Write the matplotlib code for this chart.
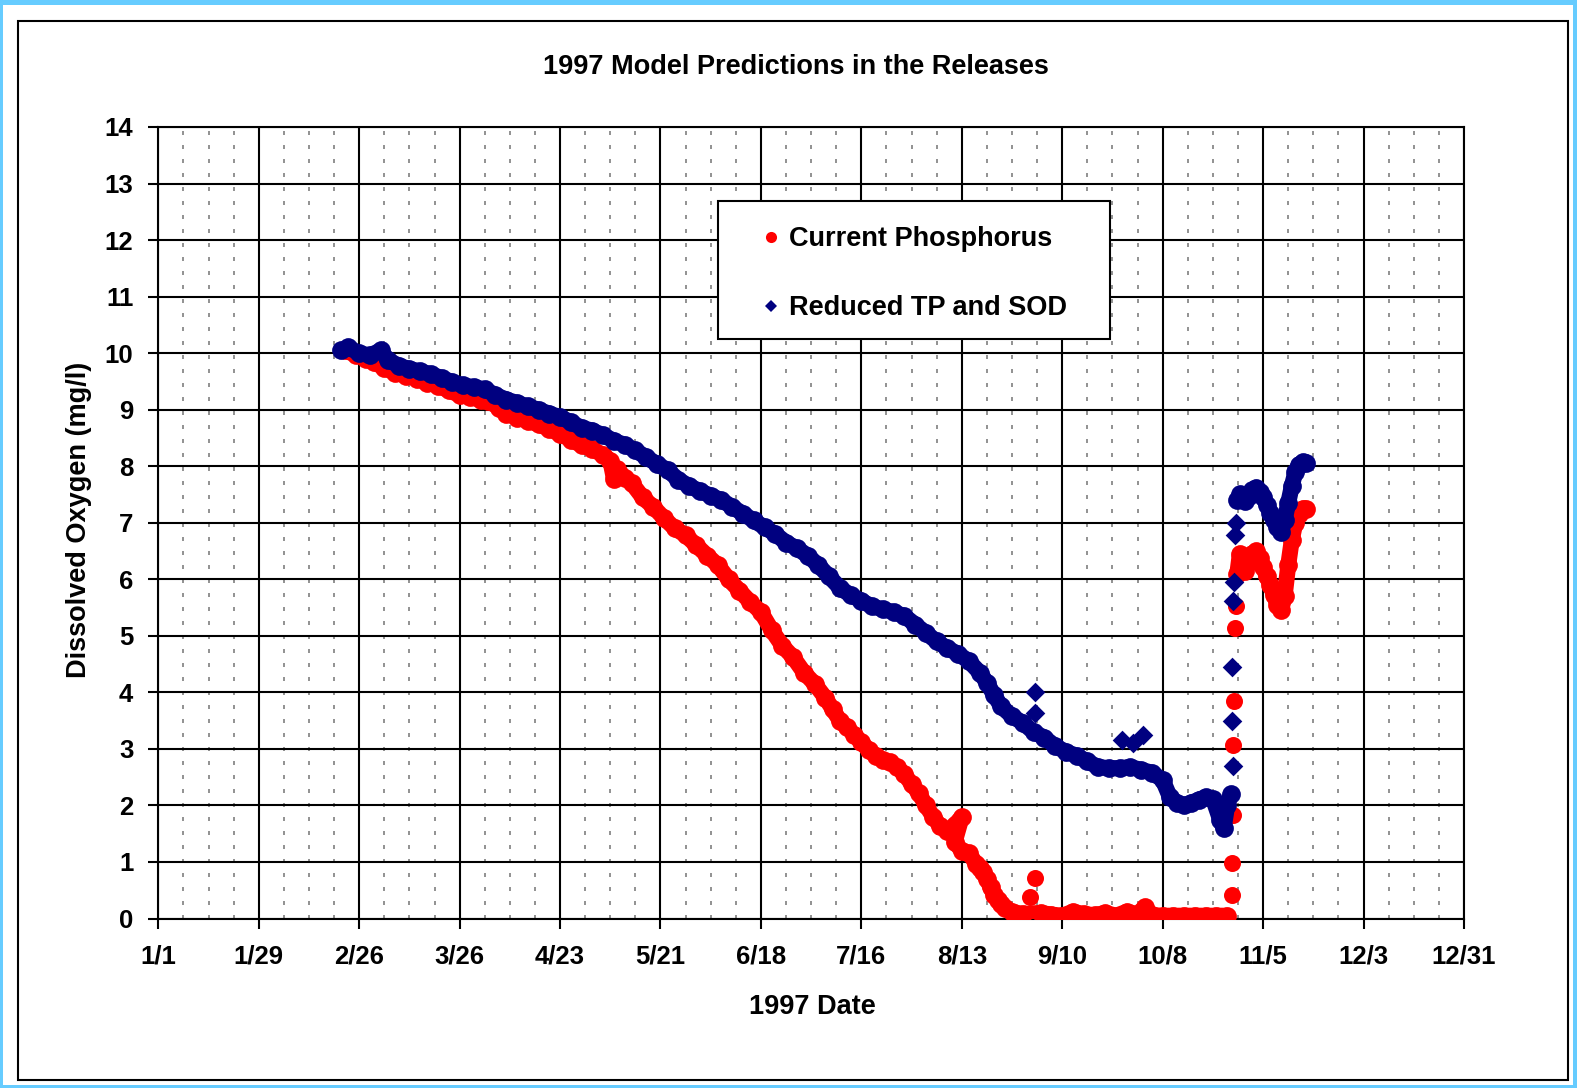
import matplotlib
matplotlib.use("Agg")
import matplotlib.pyplot as plt
from matplotlib.patches import Rectangle
from matplotlib.lines import Line2D

# -------------------------- SETTINGS ----------------------------
W, H = 1577, 1088
DPI = 100
RED = "#FF0000"
NAVY = "#000080"
plt.rcParams["font.family"] = ["Liberation Sans", "DejaVu Sans"]
plt.rcParams["font.weight"] = "bold"

# -------------------------- DATA ----------------------------
# day of year (0 = 1/1) and dissolved oxygen (mg/l).
# "band" = the dense run of hourly points, "late" = the November run,
# "single" = isolated points (jumps and outliers)
cp_band_days = [52, 55, 58, 60, 63, 66, 69, 72, 75, 78, 81, 84, 87, 90, 92, 95,
                97, 100, 103, 106, 109, 112, 115, 118, 121, 124, 126, 127, 128,
                130, 132, 135, 138, 141, 144, 147, 150, 153, 156, 159, 162, 165,
                168, 171, 174, 177, 180, 183, 186, 188, 190, 192, 194, 196, 198,
                200, 202, 204, 206, 208, 210, 212, 214, 216, 218, 220, 222, 224,
                222, 224, 226, 228, 229, 230, 231, 232, 233, 234, 235, 236, 238,
                241, 246, 249, 252, 255, 258, 261, 264, 267, 270, 273, 275, 277,
                280, 283, 286, 289, 292, 295, 298]
cp_band_do = [10.05, 9.97, 9.90, 9.84, 9.74, 9.65, 9.60, 9.55, 9.48, 9.42, 9.34,
              9.26, 9.22, 9.17, 9.16, 9.03, 8.93, 8.86, 8.80, 8.74, 8.66, 8.57,
              8.47, 8.37, 8.30, 8.20, 8.10, 7.78, 7.95, 7.80, 7.70, 7.45, 7.28,
              7.08, 6.90, 6.78, 6.60, 6.42, 6.25, 6.00, 5.80, 5.60, 5.42, 5.10,
              4.82, 4.62, 4.35, 4.15, 3.90, 3.70, 3.50, 3.38, 3.25, 3.12, 2.98,
              2.88, 2.80, 2.76, 2.68, 2.55, 2.38, 2.22, 2.00, 1.80, 1.63, 1.55,
              1.65, 1.80, 1.35, 1.20, 1.15, 0.97, 0.90, 0.82, 0.70, 0.55, 0.42,
              0.32, 0.25, 0.18, 0.12, 0.08, 0.10, 0.07, 0.05, 0.12, 0.08, 0.06,
              0.10, 0.05, 0.12, 0.08, 0.20, 0.06, 0.05, 0.05, 0.05, 0.05, 0.05,
              0.05, 0.05]
cp_late_days = [300.8, 301.5, 302.3, 303, 304, 305, 306, 307, 308, 309, 310,
                311, 312, 313, 314, 315, 316, 317, 318, 319, 320]
cp_late_do = [6.10, 6.45, 6.35, 6.15, 6.30, 6.45, 6.50, 6.38, 6.22, 6.05, 5.90,
              5.72, 5.55, 5.45, 5.70, 6.25, 6.70, 7.00, 7.15, 7.25, 7.25]
cp_single_days = [243, 244.4, 299.4, 299.3, 299.6, 299.6, 299.8, 300.1, 300.3]
cp_single_do = [0.38, 0.71, 0.41, 0.99, 1.83, 3.07, 3.85, 5.14, 5.53]

rt_band_days = [51, 53, 56, 59, 62, 64, 67, 70, 73, 76, 79, 82, 85, 88, 91, 94,
                97, 100, 103, 106, 109, 112, 115, 118, 121, 124, 127, 130, 133,
                136, 139, 142, 145, 148, 151, 154, 157, 160, 163, 166, 169, 172,
                175, 178, 181, 184, 187, 190, 193, 196, 199, 202, 205, 208, 211,
                214, 217, 220, 223, 226, 229, 231, 233, 235, 238, 241, 244, 247,
                250, 253, 256, 259, 262, 265, 268, 271, 274, 277, 280, 282, 284,
                286, 288, 290, 292, 294, 296, 297, 298, 299]
rt_band_do = [10.05, 10.10, 10.00, 9.96, 10.05, 9.88, 9.78, 9.72, 9.68, 9.63,
              9.56, 9.49, 9.43, 9.40, 9.36, 9.26, 9.18, 9.12, 9.06, 9.00, 8.93,
              8.87, 8.78, 8.68, 8.63, 8.55, 8.45, 8.38, 8.28, 8.16, 8.04, 7.93,
              7.76, 7.65, 7.56, 7.48, 7.40, 7.28, 7.16, 7.04, 6.92, 6.80, 6.65,
              6.55, 6.42, 6.25, 6.05, 5.85, 5.72, 5.62, 5.52, 5.47, 5.42, 5.35,
              5.20, 5.05, 4.90, 4.78, 4.68, 4.55, 4.35, 4.17, 3.95, 3.75, 3.58,
              3.46, 3.30, 3.20, 3.05, 2.95, 2.88, 2.78, 2.68, 2.66, 2.66, 2.68,
              2.63, 2.58, 2.45, 2.15, 2.05, 2.00, 2.05, 2.10, 2.15, 2.12, 1.75,
              1.60, 2.00, 2.20]
rt_late_days = [300.8, 301.5, 302.3, 303, 304, 305, 306, 307, 308, 309, 310,
                311, 312, 313, 314, 315, 316, 317, 318, 319, 320]
rt_late_do = [7.40, 7.50, 7.42, 7.38, 7.48, 7.58, 7.62, 7.55, 7.45, 7.32, 7.18,
              7.05, 6.92, 6.83, 7.05, 7.35, 7.65, 7.90, 8.03, 8.07, 8.05]
rt_single_days = [244.4, 244.4, 268.6, 271.8, 274.5,
                  299.5, 299.4, 299.2, 299.6, 299.9, 300.2, 300.4]
rt_single_do = [4.00, 3.64, 3.16, 3.10, 3.25,
                2.69, 3.49, 4.45, 5.61, 5.96, 6.78, 6.99]

tick_days = [0, 28, 56, 84, 112, 140, 168, 196, 224, 252, 280, 308, 336, 364]
tick_labels = ["1/1", "1/29", "2/26", "3/26", "4/23", "5/21", "6/18", "7/16",
               "8/13", "9/10", "10/8", "11/5", "12/3", "12/31"]
minor_days = [d for d in range(7, 364, 7) if d % 28]
y_ticks = list(range(0, 15))

series_names = ["Current Phosphorus", "Reduced TP and SOD"]

# -------------------------- FIGURE ----------------------------
fig = plt.figure(figsize=(W / DPI, H / DPI), dpi=DPI)
fig.patch.set_facecolor("#66CCFF")
fig.patches.append(Rectangle((3 / W, 1 - 1085 / H), 1570 / W, 1080 / H,
                             transform=fig.transFigure, facecolor="white",
                             edgecolor="none", zorder=-3))
fig.patches.append(Rectangle((18 / W, 1 - 1080 / H), 1550 / W, 1059 / H,
                             transform=fig.transFigure, facecolor="none",
                             edgecolor="black", linewidth=1.5, zorder=-2))

ax = fig.add_axes([158.3 / W, 1 - 918.5 / H, (1464 - 158.3) / W, (918.5 - 127) / H])
ax.set_zorder(1)
ax.set_facecolor("white")

# dense hourly runs drawn as a thick band of markers
band_style = dict(linestyle="-", linewidth=11.5, solid_capstyle="round",
                  solid_joinstyle="round", markeredgewidth=0)
for d, v in [(cp_band_days, cp_band_do), (cp_late_days, cp_late_do)]:
    ax.plot(d, v, color=RED, marker="o", markersize=13.5, zorder=3, **band_style)
ax.scatter(cp_single_days, cp_single_do, s=150, marker="o", color=RED,
           linewidths=0, zorder=3)
for d, v in [(rt_band_days, rt_band_do), (rt_late_days, rt_late_do)]:
    ax.plot(d, v, color=NAVY, marker="o", markersize=13.5, zorder=4, **band_style)
ax.scatter(rt_single_days, rt_single_do, s=100, marker="D", color=NAVY,
           linewidths=0, zorder=4)

ax.set_xlim(0, 364)
ax.set_ylim(0, 14)
ax.set_xticks(tick_days)
ax.set_xticklabels(tick_labels)
ax.set_xticks(minor_days, minor=True)
ax.set_yticks(y_ticks)

ax.grid(True, which="major", color="black", linewidth=1.5, zorder=1)
ax.grid(True, which="minor", axis="x", color="#7f7f7f", linewidth=1.2,
        linestyle=(0, (2.4, 6)), zorder=1)
ax.set_axisbelow(True)

ax.tick_params(axis="both", which="major", direction="out", length=7, width=1.5,
               labelsize=18.5, colors="black")
ax.tick_params(axis="x", which="major", pad=12)
ax.tick_params(axis="y", which="major", pad=11)
ax.tick_params(axis="x", which="minor", length=0)
for lab in ax.get_xticklabels() + ax.get_yticklabels():
    lab.set_fontweight("bold")
for sp in ax.spines.values():
    sp.set_color("black")
    sp.set_linewidth(1.5)

fig.text(796 / W, 1 - 67 / H, "1997 Model Predictions in the Releases",
         ha="center", va="center", fontsize=19.5, fontweight="bold")
fig.text(812 / W, 1 - 1007 / H, "1997 Date", ha="center", va="center",
         fontsize=19.5, fontweight="bold")
fig.text(79 / W, 1 - 520 / H, "Dissolved Oxygen (mg/l)", ha="center",
         va="center", rotation=90, fontsize=19.5, fontweight="bold")

# legend box drawn by hand, entries placed inside it
fig.patches.append(Rectangle((718 / W, 1 - 339 / H), 392 / W, 138 / H,
                             transform=fig.transFigure, facecolor="white",
                             edgecolor="black", linewidth=1.5, zorder=5))
handles = [Line2D([], [], linestyle="none", marker="o", markersize=8,
                  color=RED, markeredgewidth=0),
           Line2D([], [], linestyle="none", marker="D", markersize=6.5,
                  color=NAVY, markeredgewidth=0)]
leg = fig.legend(handles, series_names, loc="upper left",
                 bbox_to_anchor=(757.5 / W, 1 - 226 / H), frameon=False,
                 borderpad=0, borderaxespad=0, handlelength=1.0,
                 handletextpad=0.15, labelspacing=1.6,
                 prop={"size": 19.5, "weight": "bold"})
leg.set_zorder(6)

fig.savefig("out.png", dpi=DPI, facecolor=fig.get_facecolor())
